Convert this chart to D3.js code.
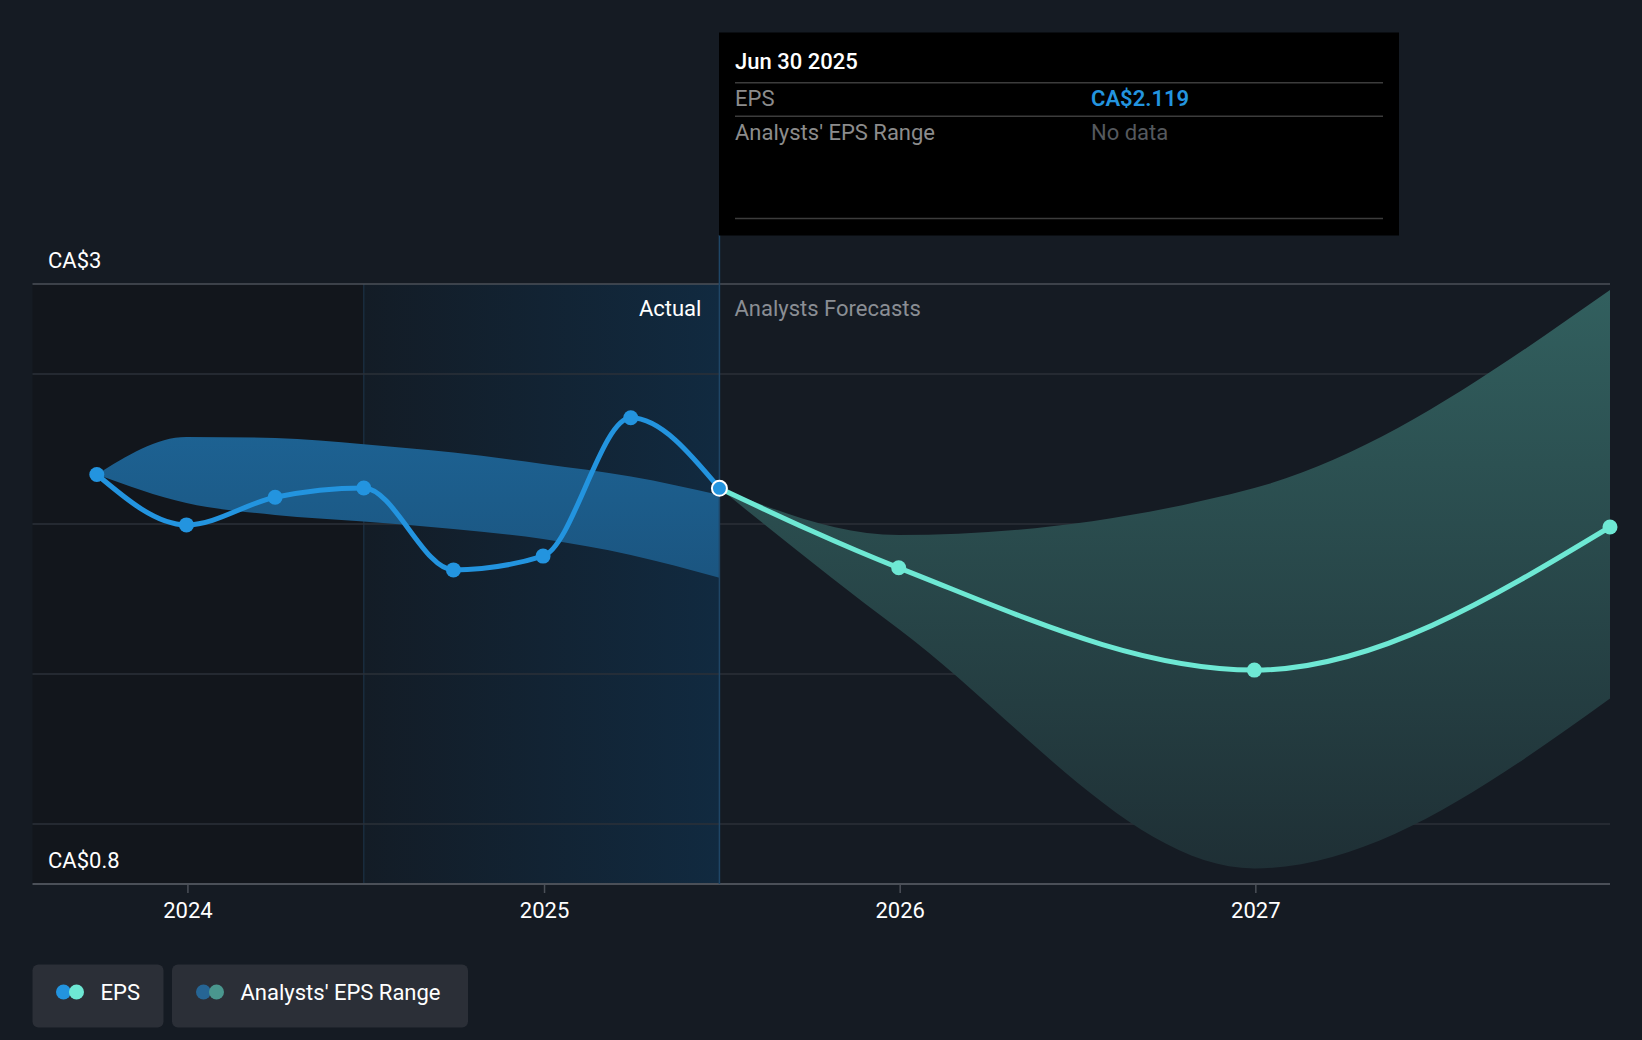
<!DOCTYPE html>
<html>
<head>
<meta charset="utf-8">
<script src="https://cdn.jsdelivr.net/npm/d3@7"></script>
<style>
  html, body { margin: 0; padding: 0; background: #151b23; }
  svg { display: block; font-family: Roboto, "Noto Sans", sans-serif; }
</style>
</head>
<body>
<svg id="chart" width="1642" height="1040"></svg>
<script>
// ---- data ----
const actualDates = ["2023-09-30", "2023-12-31", "2024-03-31", "2024-06-30", "2024-09-30", "2024-12-31", "2025-03-31", "2025-06-30"];
const actualEps = [2.165, 1.997, 2.089, 2.12, 1.847, 1.893, 2.354, 2.119];

const pastRangeUpper = [2.165, 2.29, 2.287, 2.266, 2.238, 2.2, 2.158, 2.097];
const pastRangeLower = [2.165, 2.07, 2.03, 2.008, 1.983, 1.95, 1.897, 1.821];

const forecastDates = ["2025-06-30", "2025-12-31", "2026-12-31", "2027-12-31"];
const forecastEps = [2.119, 1.854, 1.513, 1.99];
const forecastUpper = [2.119, 1.963, 2.12, 2.78];
const forecastLower = [2.119, 1.65, 0.852, 1.418];

const yGridValues = [1, 1.5, 2, 2.5];
const yDomain = [0.8, 2.8];
const yLabels = ["CA$3", "CA$0.8"];
const xTickYears = [2024, 2025, 2026, 2027];
const xDomain = ["2023-07-26", "2027-12-31"];
const actualStart = "2024-06-30";
const todayDate = "2025-06-30";

const tooltipTitle = "Jun 30 2025";
const tooltipRows = [["EPS", "CA$2.119"], ["Analysts' EPS Range", "No data"]];
const legendItems = ["EPS", "Analysts' EPS Range"];

// ---- setup ----
(function () {
const W = 1642, H = 1040;
const pL = 32.5, pR = 1610, pT = 284, pB = 884;
const FS = 22;
const svg = d3.select("#chart");
const parse = s => { const [yy, m, d] = s.split("-").map(Number); return new Date(Date.UTC(yy, m - 1, d)); };

const x = d3.scaleUtc().domain(xDomain.map(parse)).range([pL, pR]);
const y = d3.scaleLinear().domain(yDomain).range([pB, pT]);

const defs = svg.append("defs");
const g1 = defs.append("linearGradient").attr("id", "actualGrad").attr("x1", "0").attr("x2", "1").attr("y1", "0").attr("y2", "0");
g1.append("stop").attr("offset", "0").attr("stop-color", "#131c26");
g1.append("stop").attr("offset", "1").attr("stop-color", "#112a40");
const g2 = defs.append("linearGradient").attr("id", "fcGrad").attr("gradientUnits", "userSpaceOnUse")
  .attr("x1", 0).attr("x2", 0).attr("y1", pT).attr("y2", pB);
g2.append("stop").attr("offset", "0").attr("stop-color", "#32605f");
g2.append("stop").attr("offset", "1").attr("stop-color", "#1e2e34");
const g3 = defs.append("linearGradient").attr("id", "pastGrad").attr("gradientUnits", "userSpaceOnUse")
  .attr("x1", 0).attr("x2", 0).attr("y1", 420).attr("y2", 580);
g3.append("stop").attr("offset", "0").attr("stop-color", "#1d6394");
g3.append("stop").attr("offset", "1").attr("stop-color", "#1b5580");

svg.append("rect").attr("width", W).attr("height", H).attr("fill", "#151b23");

// background regions
svg.append("rect").attr("x", pL).attr("y", pT).attr("width", x(parse(actualStart)) - pL).attr("height", pB - pT).attr("fill", "#12161c");
svg.append("rect").attr("x", x(parse(actualStart))).attr("y", pT).attr("width", x(parse(todayDate)) - x(parse(actualStart))).attr("height", pB - pT).attr("fill", "url(#actualGrad)");
svg.append("line").attr("x1", x(parse(actualStart))).attr("x2", x(parse(actualStart))).attr("y1", pT).attr("y2", pB).attr("stroke", "#1a2d3e").attr("stroke-width", 1.5);

// grid
svg.append("g").selectAll("line").data(yGridValues).join("line")
  .attr("x1", pL).attr("x2", pR).attr("y1", d => y(d)).attr("y2", d => y(d))
  .attr("stroke", "#2b3139").attr("stroke-width", 1.5);
svg.append("line").attr("x1", pL).attr("x2", pR).attr("y1", y(yDomain[1])).attr("y2", y(yDomain[1])).attr("stroke", "#4b5058").attr("stroke-width", 1.5);

// x axis
const xAxis = d3.axisBottom(x).tickValues(xTickYears.map(yr => new Date(Date.UTC(yr, 0, 1)))).tickFormat(d3.utcFormat("%Y")).tickSize(9).tickPadding(9);
const ax = svg.append("g").attr("transform", `translate(0,${pB})`).call(xAxis);
ax.select(".domain").attr("stroke", "#4b5058").attr("stroke-width", 2).attr("d", `M${pL},0H${pR}`);
ax.selectAll(".tick line").attr("stroke", "#4b5058").attr("stroke-width", 1.5);
ax.selectAll(".tick text").attr("fill", "#ffffff").attr("font-size", FS).attr("font-family", "Roboto");

// y labels
svg.append("text").attr("x", 48).attr("y", 268).attr("fill", "#ffffff").attr("font-size", FS).text(yLabels[0]);
svg.append("text").attr("x", 48).attr("y", 868).attr("fill", "#ffffff").attr("font-size", FS).text(yLabels[1]);

// bands
const band = d3.area().x(d => x(d.date)).y0(d => y(d.lo)).y1(d => y(d.hi)).curve(d3.curveMonotoneX);
const pastBand = actualDates.map((d, i) => ({ date: parse(d), lo: pastRangeLower[i], hi: pastRangeUpper[i] }));
const fcBand = forecastDates.map((d, i) => ({ date: parse(d), lo: forecastLower[i], hi: forecastUpper[i] }));
svg.append("path").datum(pastBand).attr("d", band).attr("fill", "url(#pastGrad)");
svg.append("path").datum(fcBand).attr("d", band).attr("fill", "url(#fcGrad)");

// today line
svg.append("line").attr("x1", x(parse(todayDate))).attr("x2", x(parse(todayDate))).attr("y1", 235).attr("y2", pB).attr("stroke", "#1f4666").attr("stroke-width", 1.5);

// section labels
svg.append("text").attr("x", x(parse(todayDate)) - 18).attr("y", 316).attr("text-anchor", "end").attr("fill", "#ffffff").attr("font-size", FS).text("Actual");
svg.append("text").attr("x", x(parse(todayDate)) + 15).attr("y", 316).attr("fill", "#8a8e94").attr("font-size", FS).text("Analysts Forecasts");

// lines
const line = d3.line().x(d => x(d.date)).y(d => y(d.v)).curve(d3.curveMonotoneX);
const act = actualDates.map((d, i) => ({ date: parse(d), v: actualEps[i] }));
const fc = forecastDates.map((d, i) => ({ date: parse(d), v: forecastEps[i] }));
svg.append("path").datum(fc).attr("d", line).attr("fill", "none").attr("stroke", "#6ee8d4").attr("stroke-width", 5);
svg.append("path").datum(act).attr("d", line).attr("fill", "none").attr("stroke", "#2394df").attr("stroke-width", 5);

svg.append("g").selectAll("circle").data(fc.slice(1)).join("circle")
  .attr("cx", d => x(d.date)).attr("cy", d => y(d.v)).attr("r", 7.5).attr("fill", "#6ee8d4");
svg.append("g").selectAll("circle").data(act.slice(0, -1)).join("circle")
  .attr("cx", d => x(d.date)).attr("cy", d => y(d.v)).attr("r", 7.5).attr("fill", "#2394df");
const last = act[act.length - 1];
svg.append("circle").attr("cx", x(last.date)).attr("cy", y(last.v)).attr("r", 7.5).attr("fill", "#2394df").attr("stroke", "#ffffff").attr("stroke-width", 2);

// tooltip
const tt = svg.append("g");
tt.append("rect").attr("x", 719).attr("y", 32.5).attr("width", 680).attr("height", 203).attr("fill", "#000000");
tt.append("text").attr("x", 735).attr("y", 69).attr("fill", "#ffffff").attr("font-size", FS).attr("font-weight", 500).text(tooltipTitle);
[82.7, 116.3, 218.5].forEach(yy => tt.append("line").attr("x1", 735).attr("x2", 1383).attr("y1", yy).attr("y2", yy).attr("stroke", "#3c3c3c").attr("stroke-width", 1.5));
const rowY = [106, 139.5];
tooltipRows.forEach((r, i) => {
  tt.append("text").attr("x", 735).attr("y", rowY[i]).attr("fill", "#8c8c8c").attr("font-size", FS).text(r[0]);
  tt.append("text").attr("x", 1091).attr("y", rowY[i]).attr("fill", i === 0 ? "#2394df" : "#55595e").attr("font-size", FS).attr("font-weight", i === 0 ? 600 : 400).text(r[1]);
});

// legend
const lg = svg.append("g");
const boxes = [{ x: 32.5, w: 131, c1: "#2394df", c2: "#6ee8d4", cx: 63.5 }, { x: 172, w: 296, c1: "#266594", c2: "#4a978e", cx: 203.5 }];
boxes.forEach((b, i) => {
  lg.append("rect").attr("x", b.x).attr("y", 964.5).attr("width", b.w).attr("height", 63).attr("rx", 6).attr("fill", "#2b2f37");
  lg.append("circle").attr("cx", b.cx).attr("cy", 992).attr("r", 7.5).attr("fill", b.c1);
  lg.append("circle").attr("cx", b.cx + 13).attr("cy", 992).attr("r", 7.5).attr("fill", b.c2);
  lg.append("text").attr("x", b.cx + 37).attr("y", 999.5).attr("fill", "#ffffff").attr("font-size", FS).text(legendItems[i]);
});
})();
</script>
</body>
</html>
